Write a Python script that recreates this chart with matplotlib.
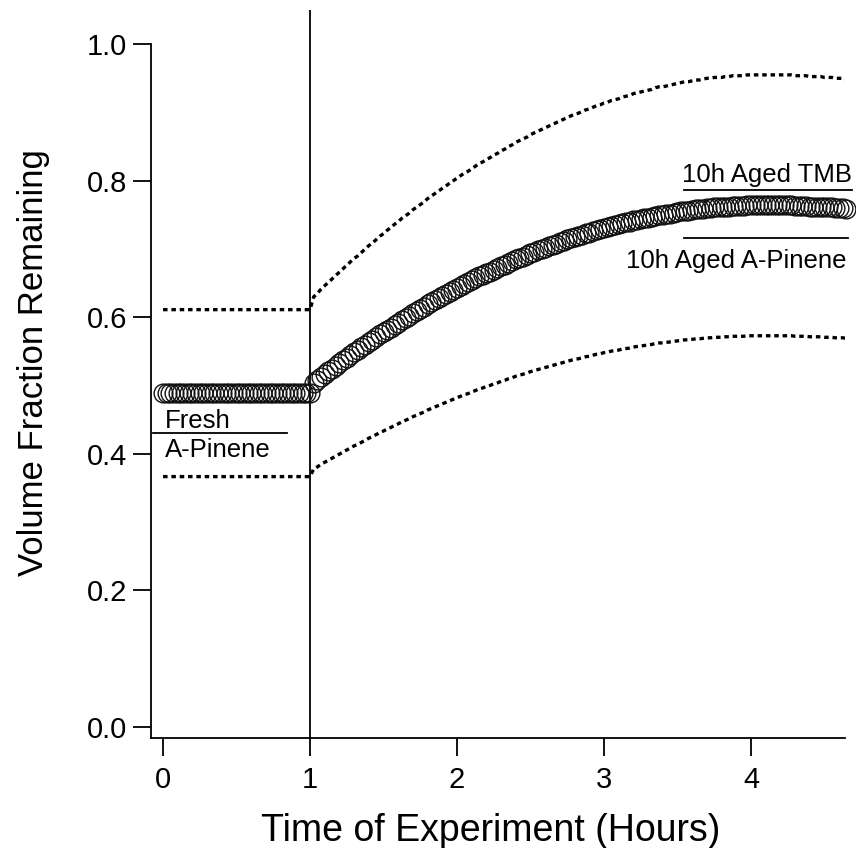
import numpy as np
import matplotlib
matplotlib.use("Agg")
import matplotlib.pyplot as plt

plt.rcParams['font.family'] = ['Liberation Sans', 'DejaVu Sans']

# Sampling times (hours) of the volume-fraction measurement
hours = np.round(np.arange(0, 4.651, 0.025), 3)

# Volume fraction remaining: fresh aerosol (0-1 h), then ageing after injection
fresh_values = [0.489] * 41
aged_values = [
    0.504, 0.508, 0.513, 0.517, 0.521, 0.525, 0.529, 0.533, 0.537, 0.541,
    0.545, 0.549, 0.552, 0.556, 0.560, 0.564, 0.567, 0.571, 0.575, 0.578,
    0.582, 0.585, 0.589, 0.592, 0.596, 0.599, 0.602, 0.606, 0.609, 0.612,
    0.615, 0.619, 0.622, 0.625, 0.628, 0.631, 0.634, 0.637, 0.640, 0.643,
    0.646, 0.649, 0.651, 0.654, 0.657, 0.660, 0.662, 0.665, 0.667, 0.670,
    0.672, 0.675, 0.677, 0.680, 0.682, 0.685, 0.687, 0.689, 0.691, 0.694,
    0.696, 0.698, 0.700, 0.702, 0.704, 0.706, 0.708, 0.710, 0.712, 0.714,
    0.716, 0.718, 0.719, 0.721, 0.723, 0.724, 0.726, 0.728, 0.729, 0.731,
    0.732, 0.734, 0.735, 0.736, 0.738, 0.739, 0.740, 0.742, 0.743, 0.744,
    0.745, 0.746, 0.747, 0.749, 0.750, 0.750, 0.751, 0.752, 0.753, 0.754,
    0.755, 0.756, 0.756, 0.757, 0.758, 0.758, 0.759, 0.760, 0.760, 0.761,
    0.761, 0.761, 0.762, 0.762, 0.763, 0.763, 0.763, 0.763, 0.764, 0.764,
    0.764, 0.764, 0.764, 0.764, 0.764, 0.764, 0.764, 0.764,
    0.764, 0.764, 0.764, 0.763, 0.763, 0.763, 0.763, 0.762, 0.762, 0.762,
    0.762, 0.761, 0.761, 0.761, 0.760, 0.760, 0.760, 0.759,
]
volume_fraction = np.array(fresh_values + aged_values)

# Relative uncertainty shown as the dotted envelope
uncertainty = 0.25
upper_bound = volume_fraction * (1 + uncertainty)
lower_bound = volume_fraction * (1 - uncertainty)

injection_time = 1.0

# Reference levels for comparison aerosols
fresh_apinene_level = 0.43
aged_tmb_level = 0.786
aged_apinene_level = 0.716

x_ticks = [0, 1, 2, 3, 4]
y_ticks = [0.0, 0.2, 0.4, 0.6, 0.8, 1.0]

fig = plt.figure(figsize=(8.56, 8.48), dpi=100)
ax = fig.add_axes([151 / 856, 110 / 848, 694 / 856, 728 / 848])
ax.set_xlim(-0.082, 4.64)
ax.set_ylim(-0.016, 1.05)

ax.plot(hours, volume_fraction, 'o', mfc='none', mec='#111111', ms=13.5,
        mew=1.0, clip_on=False, zorder=3)
dots = (0, (1.35, 1.15))
ax.plot(hours, upper_bound, color='black', lw=2.4, ls=dots)
ax.plot(hours, lower_bound, color='black', lw=2.4, ls=dots)

ax.axvline(injection_time, color='black', lw=1.3)

# Reference marker lines with labels
label_size = 18.5
ax.plot([-0.068, 0.844], [fresh_apinene_level] * 2, color='black', lw=1.3,
        clip_on=False)
ax.text(0.014, 0.438, 'Fresh', fontsize=label_size, ha='left',
        va='baseline')
ax.text(0.014, 0.395, 'A-Pinene', fontsize=label_size, ha='left',
        va='baseline')

ax.plot([3.544, 4.687], [aged_tmb_level] * 2, color='black', lw=1.3,
        clip_on=False)
ax.text(4.685, 0.798, '10h Aged TMB', fontsize=label_size, ha='right',
        va='baseline')

ax.plot([3.544, 4.66], [aged_apinene_level] * 2, color='black', lw=1.3,
        clip_on=False)
ax.text(4.65, 0.672, '10h Aged A-Pinene', fontsize=label_size, ha='right',
        va='baseline')

for side in ('top', 'right'):
    ax.spines[side].set_visible(False)
ax.spines['left'].set_bounds(-0.016, 1.0)
for side in ('left', 'bottom'):
    ax.spines[side].set_linewidth(1.3)

ax.set_xticks(x_ticks)
ax.set_xticklabels([str(t) for t in x_ticks])
ax.set_yticks(y_ticks)
ax.set_yticklabels([f'{t:.1f}' for t in y_ticks])
ax.tick_params(direction='out', length=13, width=1.3, labelsize=21,
               colors='black')
ax.tick_params(axis='y', pad=4)
ax.tick_params(axis='x', pad=7)

ax.set_xlabel('Time of Experiment (Hours)', fontsize=27)
ax.xaxis.set_label_coords(0.49, -0.103)
ax.xaxis.label.set_va('top')
ax.set_ylabel('Volume Fraction Remaining', fontsize=25)
ax.yaxis.set_label_coords(-0.145, 0.516)

fig.savefig('out.png', dpi=100)
